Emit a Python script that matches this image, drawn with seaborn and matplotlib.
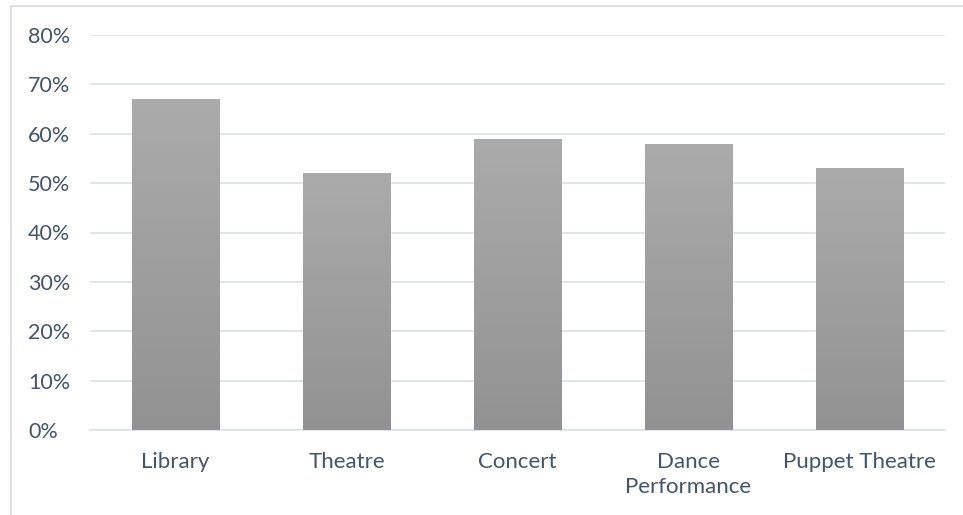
import numpy as np
import pandas as pd
import matplotlib
matplotlib.use("Agg")
import matplotlib.pyplot as plt
from matplotlib.lines import Line2D
import seaborn as sns

categories = ["Library", "Theatre", "Concert", "Dance\nPerformance", "Puppet Theatre"]
shares = [67, 52, 59, 58, 53]
y_ticks = [0, 10, 20, 30, 40, 50, 60, 70, 80]

df = pd.DataFrame({"category": categories, "share": shares})

sns.set_theme(style="white")
plt.rcParams["font.family"] = ["Lato", "DejaVu Sans"]

text_color = "#44546a"
grid_color = "#dde2e9"

fig = plt.figure(figsize=(9.63, 5.15), dpi=100)
ax = fig.add_axes([90 / 963, 1 - 430 / 515, 855 / 963, 395 / 515])

sns.barplot(data=df, x="category", y="share", color="#a0a0a0", width=0.51,
            ax=ax, zorder=3, saturation=1)

ax.set_ylim(0, 80)
ax.set_xlim(-0.5, len(categories) - 0.5)
ax.set_yticks(y_ticks)
ax.set_yticklabels([f"{t}%" for t in y_ticks])
ax.yaxis.grid(True, color=grid_color, linewidth=1.3, zorder=0)
ax.set_axisbelow(True)
for side in ["left", "right", "top"]:
    ax.spines[side].set_visible(False)
ax.spines["bottom"].set_color(grid_color)
ax.spines["bottom"].set_linewidth(1.3)
ax.set_xlabel("")
ax.set_ylabel("")
ax.tick_params(axis="both", length=0, colors=text_color)
ax.tick_params(axis="x", labelsize=16, pad=16)
ax.tick_params(axis="y", labelsize=15.5, pad=44.5)
for lbl in ax.get_yticklabels():
    lbl.set_horizontalalignment("left")
for lbl in ax.get_xticklabels():
    lbl.set_linespacing(1.3)

# vertical grey gradient inside each bar
grad = np.linspace(0, 1, 256).reshape(-1, 1)
cmap = matplotlib.colors.LinearSegmentedColormap.from_list("bar", ["#929292", "#ababab"])
for patch in list(ax.patches):
    x0, y0 = patch.get_x(), patch.get_y()
    w, h = patch.get_width(), patch.get_height()
    im = ax.imshow(grad, cmap=cmap, aspect="auto", origin="lower",
                   extent=[x0, x0 + w, y0, y0 + h], zorder=4, interpolation="bicubic")
    im.set_clip_path(patch)
ax.set_xlim(-0.5, len(categories) - 0.5)
ax.set_ylim(0, 80)

# chart-area frame along the left and top edges
fig.add_artist(Line2D([10.5 / 963, 10.5 / 963], [0, 1 - 6 / 515], color="#d9d9d9",
                      linewidth=1.2, transform=fig.transFigure))
fig.add_artist(Line2D([10.5 / 963, 1], [1 - 6 / 515, 1 - 6 / 515], color="#d9d9d9",
                      linewidth=1.2, transform=fig.transFigure))

fig.savefig("out.png", dpi=100, facecolor="white")
